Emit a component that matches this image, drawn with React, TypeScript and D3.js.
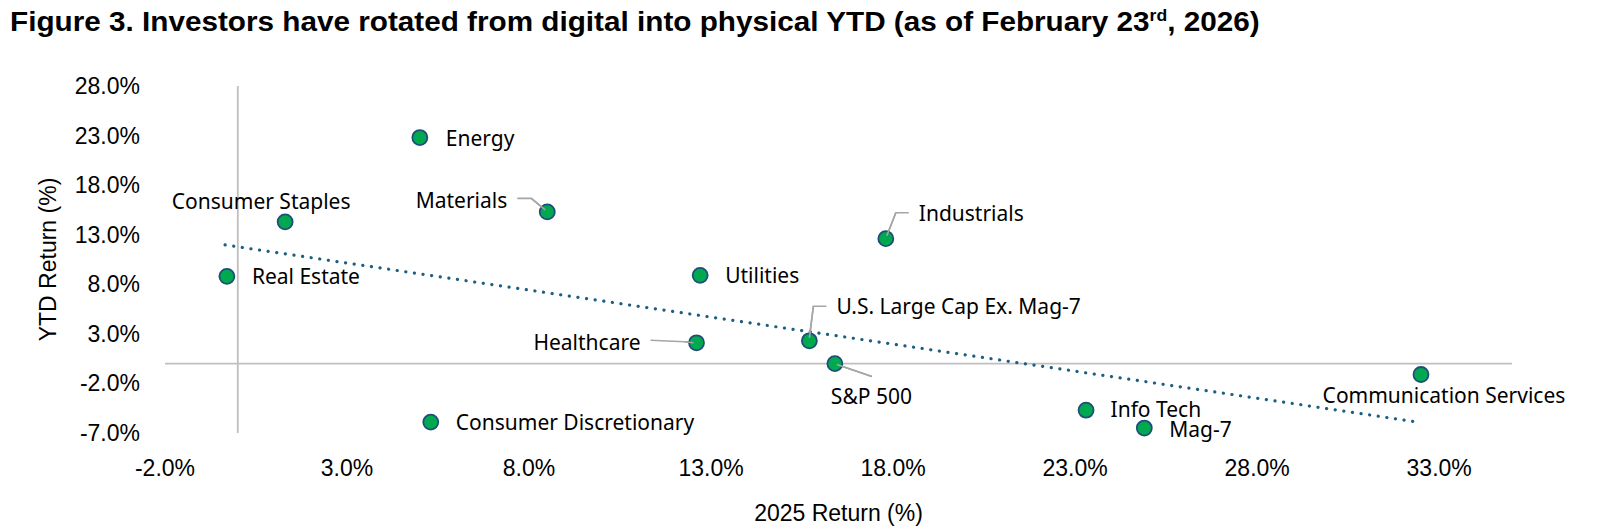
import React, { useEffect, useRef } from 'react';
import * as d3 from 'd3';

// values (percent)
const names = [
  'Energy', 'Consumer Staples', 'Materials', 'Industrials', 'Real Estate', 'Utilities',
  'U.S. Large Cap Ex. Mag-7', 'Healthcare', 'S&P 500', 'Consumer Discretionary',
  'Info Tech', 'Mag-7', 'Communication Services',
];
const return2025 = [5.0, 1.3, 8.5, 17.8, -0.3, 12.7, 15.7, 12.6, 16.4, 5.3, 23.3, 24.9, 32.5];
const returnYtd = [22.8, 14.3, 15.3, 12.6, 8.8, 8.9, 2.3, 2.1, 0.0, -5.9, -4.7, -6.5, -1.1];

const xTicks = [-2, 3, 8, 13, 18, 23, 28, 33];
const yTicks = [28, 23, 18, 13, 8, 3, -2, -7];

// linear trend line end points (as drawn in the reference)
const trendX = [-0.35, 32.3];
const trendY = [11.97, -5.84];

type Label = { dx: number; dy: number; anchor: string; leader?: number[][] };

// label placement relative to each point, in px
const labelLayout: Record<string, Label> = {
  'Energy': { dx: 26, dy: 0, anchor: 'start' },
  'Consumer Staples': { dx: -24, dy: -21, anchor: 'middle' },
  'Materials': { dx: -40, dy: -12, anchor: 'end', leader: [[-30, -13.5], [-16, -13.5], [-2, -2]] },
  'Industrials': { dx: 33, dy: -25.5, anchor: 'start', leader: [[23, -26], [10, -26], [1, -3]] },
  'Real Estate': { dx: 25, dy: 0, anchor: 'start' },
  'Utilities': { dx: 25, dy: 0, anchor: 'start' },
  'U.S. Large Cap Ex. Mag-7': { dx: 27, dy: -34.5, anchor: 'start', leader: [[17, -34.5], [4, -34.5], [0, -3]] },
  'Healthcare': { dx: -56, dy: -1, anchor: 'end', leader: [[-46, -2.5], [-12, -1], [-3, 0]] },
  'S&P 500': { dx: -4, dy: 32, anchor: 'start', leader: [[2, 1], [37, 13]] },
  'Consumer Discretionary': { dx: 25, dy: 0, anchor: 'start' },
  'Info Tech': { dx: 24.5, dy: -1.5, anchor: 'start' },
  'Mag-7': { dx: 25, dy: 1, anchor: 'start' },
  'Communication Services': { dx: 23, dy: 20, anchor: 'middle' },
};

const W = 1606;
const H = 532;

function ScatterChart(): JSX.Element {
  const svgRef = useRef<SVGSVGElement>(null);

  useEffect(() => {
    const svg = d3.select(svgRef.current);
    svg.selectAll('*').remove();

    const x = d3.scaleLinear().domain([-2, 35]).range([165, 1512]);
    const y = d3.scaleLinear().domain([-7, 28]).range([433, 86]);

    const tickFont = '"Liberation Sans", Arial, sans-serif';
    const labelFont = '"Noto Sans", "Open Sans", sans-serif';

    // title
    const title = svg.append('text')
      .attr('font-family', '"Liberation Sans Narrow", "Liberation Sans", Arial, sans-serif')
      .attr('font-weight', 'bold')
      .attr('font-size', 27)
      .attr('fill', '#000');
    title.append('tspan').text('Figure 3. Investors have rotated from digital into physical YTD (as of February 23');
    title.append('tspan').attr('font-size', 16).attr('dy', -10).text('rd');
    title.append('tspan').attr('dy', 10).text(', 2026)');
    const tw = (title.node() as SVGTextElement).getBBox().width;
    title.attr('transform', `translate(10,31) scale(${1250 / tw},1)`);

    // axis lines through zero
    svg.append('line')
      .attr('x1', x(-2)).attr('x2', x(35))
      .attr('y1', y(0)).attr('y2', y(0))
      .attr('stroke', '#bfbfbf').attr('stroke-width', 1.8);
    svg.append('line')
      .attr('x1', x(0)).attr('x2', x(0))
      .attr('y1', y(-7)).attr('y2', y(28))
      .attr('stroke', '#bfbfbf').attr('stroke-width', 1.8);

    // tick labels
    svg.append('g')
      .selectAll('text')
      .data(xTicks)
      .join('text')
      .attr('x', d => x(d))
      .attr('y', 468)
      .attr('text-anchor', 'middle')
      .attr('dominant-baseline', 'central')
      .attr('font-family', tickFont)
      .attr('font-size', 23)
      .attr('fill', '#000')
      .text(d => `${d.toFixed(1)}%`);

    svg.append('g')
      .selectAll('text')
      .data(yTicks)
      .join('text')
      .attr('x', 140)
      .attr('y', d => y(d))
      .attr('text-anchor', 'end')
      .attr('dominant-baseline', 'central')
      .attr('font-family', tickFont)
      .attr('font-size', 23)
      .attr('fill', '#000')
      .text(d => `${d.toFixed(1)}%`);

    // axis titles
    svg.append('text')
      .attr('x', (x(-2) + x(35)) / 2)
      .attr('y', 513)
      .attr('text-anchor', 'middle')
      .attr('dominant-baseline', 'central')
      .attr('font-family', tickFont)
      .attr('font-size', 23)
      .text('2025 Return (%)');
    svg.append('text')
      .attr('transform', `translate(48,${(y(-7) + y(28)) / 2}) rotate(-90)`)
      .attr('text-anchor', 'middle')
      .attr('dominant-baseline', 'central')
      .attr('font-family', tickFont)
      .attr('font-size', 23)
      .text('YTD Return (%)');

    // trend line
    const trend = d3.line<number>()
      .x((_, i) => x(trendX[i]))
      .y(d => y(d));
    svg.append('path')
      .datum(trendY)
      .attr('d', trend)
      .attr('fill', 'none')
      .attr('stroke', '#1d5f80')
      .attr('stroke-width', 3.2)
      .attr('stroke-linecap', 'round')
      .attr('stroke-dasharray', '0.1 8.6');

    const pts = names.map((n, i) => ({ name: n, px: x(return2025[i]), py: y(returnYtd[i]) }));

    // leader lines
    const leader = d3.line<number[]>().x(d => d[0]).y(d => d[1]);
    svg.append('g')
      .selectAll('path')
      .data(pts.filter(p => labelLayout[p.name].leader))
      .join('path')
      .attr('d', p => leader(labelLayout[p.name].leader!.map(([a, b]) => [p.px + a, p.py + b])))
      .attr('fill', 'none')
      .attr('stroke', '#a6a6a6')
      .attr('stroke-width', 1.6);

    // points
    svg.append('g')
      .selectAll('circle')
      .data(pts)
      .join('circle')
      .attr('cx', p => p.px)
      .attr('cy', p => p.py)
      .attr('r', 7.5)
      .attr('fill', '#00a94f')
      .attr('stroke', '#1f4e79')
      .attr('stroke-width', 1.8);

    // leader ends sit on top of the marker in the reference
    svg.append('g')
      .selectAll('path')
      .data(pts.filter(p => labelLayout[p.name].leader))
      .join('path')
      .attr('d', p => {
        const l = labelLayout[p.name].leader!;
        return leader(l.slice(-2).map(([a, b]) => [p.px + a, p.py + b]));
      })
      .attr('fill', 'none')
      .attr('stroke', '#a6a6a6')
      .attr('stroke-width', 1.6);

    // data labels
    svg.append('g')
      .selectAll('text')
      .data(pts)
      .join('text')
      .attr('x', p => p.px + labelLayout[p.name].dx)
      .attr('y', p => p.py + labelLayout[p.name].dy)
      .attr('text-anchor', p => labelLayout[p.name].anchor)
      .attr('dominant-baseline', 'central')
      .attr('font-family', labelFont)
      .attr('font-size', 21)
      .attr('fill', '#000')
      .text(p => p.name);
  }, []);

  return (
    <svg
      ref={svgRef}
      width={W}
      height={H}
      viewBox={`0 0 ${W} ${H}`}
      style={{ position: 'absolute', left: 0, top: 0, background: '#fff' }}
    />
  );
}

export default function App(): JSX.Element {
  return <ScatterChart />;
}
